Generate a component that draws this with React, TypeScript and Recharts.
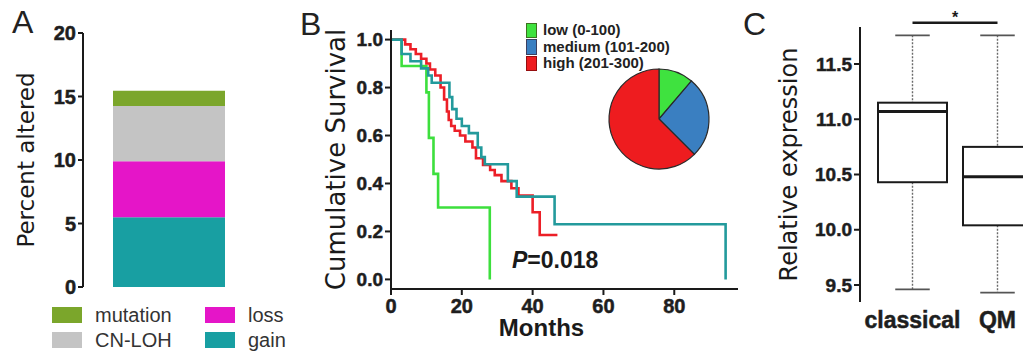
import React from 'react';
import {
  Bar,
  BarChart,
  Cell,
  ComposedChart,
  Legend,
  Line,
  LineChart,
  Pie,
  PieChart,
  ReferenceLine,
  XAxis,
  YAxis,
} from 'recharts';

const SANS = '"Liberation Sans", Arial, Helvetica, sans-serif';
const WIDE = '"DejaVu Sans", Verdana, sans-serif';
const INK = '#1a1a1a';

// --- A: alteration frequency (stacked, bottom to top)
const ALTERATIONS = ['gain', 'loss', 'CN-LOH', 'mutation'];
const ALTERED_PCT = [5.5, 4.4, 4.35, 1.2];
const ALTERATION_COLORS = ['#189fa2', '#e515c8', '#c4c4c4', '#7ba62b'];
const ALTERATION_LEGEND_ORDER = ['mutation', 'loss', 'CN-LOH', 'gain'];
const PCT_TICKS = [0, 5, 10, 15, 20];

// --- B: Kaplan-Meier by expression group
const GROUP_NAMES = ['low (0-100)', 'medium (101-200)', 'high (201-300)'];
const GROUP_SIZES = [9, 21, 50];
const PIE_COLORS = ['#3fe23f', '#3a7fc1', '#ee1c1f'];
const CURVE_COLORS = ['#3ddf3d', '#239a9c', '#ec1f27'];

const LOW_MONTHS = [0, 3, 10, 10.7, 12, 13.3, 27.9];
const LOW_SURV = [1, 0.89, 0.78, 0.59, 0.44, 0.3, 0];
const MED_MONTHS = [0, 3, 5.5, 8.5, 10.5, 11.5, 16.5, 17.3, 18.5, 20, 22, 24.5, 25.5, 26.5, 33, 35.5, 46.2, 94.5];
const MED_SURV = [1, 0.94, 0.91, 0.88, 0.85, 0.82, 0.76, 0.71, 0.67, 0.64, 0.61, 0.55, 0.51, 0.48, 0.41, 0.345, 0.23, 0];
const HIGH_MONTHS = [0, 4, 5.5, 7, 8.5, 10, 11, 12.5, 14, 15, 15.8, 16.3, 17, 18, 19.5, 21, 23, 24, 26, 28, 29.3, 31.2, 34, 36, 40, 42, 47];
const HIGH_SURV = [1, 0.98, 0.96, 0.94, 0.92, 0.9, 0.875, 0.85, 0.8, 0.75, 0.7, 0.665, 0.64, 0.62, 0.6, 0.575, 0.55, 0.505, 0.477, 0.456, 0.435, 0.41, 0.38, 0.35, 0.28, 0.185, 0.185];
const MONTH_TICKS = [0, 20, 40, 60, 80];
const SURV_TICKS = [0, 0.2, 0.4, 0.6, 0.8, 1];
const P_VALUE = '0.018';

// --- C: expression by subtype
const SUBTYPES = ['classical', 'QM'];
const EXPR_MIN = [9.46, 9.43];
const EXPR_Q1 = [10.43, 10.04];
const EXPR_MEDIAN = [11.07, 10.48];
const EXPR_Q3 = [11.15, 10.75];
const EXPR_MAX = [11.76, 11.76];
const EXPR_TICKS = [9.5, 10, 10.5, 11, 11.5];
const SIG_LEVEL = 11.874;

const zip = (xs: number[], ys: number[]) => xs.map((m, i) => ({ m, s: ys[i] }));
const curves = [zip(LOW_MONTHS, LOW_SURV), zip(MED_MONTHS, MED_SURV), zip(HIGH_MONTHS, HIGH_SURV)];

const axisStroke = { stroke: INK, strokeWidth: 2 };
const oneDecimal = (v: number) => v.toFixed(1);

// bold tick text; dy centres y-axis labels / hangs x-axis labels below the tick
function makeTick(size: number, dy: string, fmt: (v: any) => string = String) {
  return (props: any) => (
    <text
      x={props.x}
      y={props.y}
      dy={dy}
      textAnchor={props.textAnchor}
      fontSize={size}
      fontWeight={700}
      fontFamily={SANS}
      fill="#1e1e1e"
      stroke="#1e1e1e"
      strokeWidth={0.5}
    >
      {fmt(props.payload.value)}
    </text>
  );
}

function AlterationLegend({ payload }: any) {
  const items = ALTERATION_LEGEND_ORDER.map((n) => (payload || []).find((p: any) => p.value === n)).filter(Boolean);
  return (
    <div style={{ display: 'grid', gridTemplateColumns: '153px 110px', rowGap: 9, fontFamily: SANS, fontSize: 20, color: '#333' }}>
      {items.map((p: any) => (
        <div key={p.value} style={{ display: 'flex', alignItems: 'center', height: 16 }}>
          <span style={{ width: 30, height: 16, background: p.color, marginRight: 13, flex: 'none' }} />
          <span style={{ lineHeight: '16px' }}>{p.value}</span>
        </div>
      ))}
    </div>
  );
}

function AlterationPanel() {
  const row: Record<string, string | number> = { name: 'all' };
  ALTERATIONS.forEach((k, i) => (row[k] = ALTERED_PCT[i]));
  return (
    <BarChart width={330} height={356} data={[row]} margin={{ top: 33, right: 75, bottom: 69, left: 0 }}>
      <XAxis dataKey="name" tick={false} tickLine={false} height={0} axisLine={axisStroke} />
      <YAxis
        width={83}
        domain={[0, 20]}
        ticks={PCT_TICKS}
        axisLine={axisStroke}
        tickLine={axisStroke}
        tickSize={5}
        tickMargin={2}
        tick={makeTick(20, '0.355em')}
        label={{
          value: 'Percent altered',
          angle: -90,
          position: 'insideLeft',
          offset: 26,
          style: { textAnchor: 'middle', fontSize: 23, fontFamily: WIDE, fill: INK },
        }}
      />
      {ALTERATIONS.map((k, i) => (
        <Bar key={k} dataKey={k} name={k} stackId="a" barSize={112} fill={ALTERATION_COLORS[i]} isAnimationActive={false} />
      ))}
      <Legend
        layout="horizontal"
        verticalAlign="middle"
        align="center"
        content={AlterationLegend}
        wrapperStyle={{ left: 52, top: 307, width: 270 }}
      />
    </BarChart>
  );
}

function GroupLegend() {
  return (
    <div style={{ fontFamily: SANS, fontWeight: 'bold', fontSize: 15, color: '#222' }}>
      {GROUP_NAMES.map((name, i) => (
        <div key={name} style={{ display: 'flex', alignItems: 'center', height: 16.5 }}>
          <span style={{ width: 11, height: 15.5, background: PIE_COLORS[i], boxShadow: 'inset 0 0 0 1px rgba(60,0,0,0.5)', marginRight: 6, flex: 'none' }} />
          <span style={{ lineHeight: '16px' }}>{name}</span>
        </div>
      ))}
    </div>
  );
}

function SurvivalPanel() {
  const drawOrder = [0, 2, 1];
  return (
    <LineChart width={450} height={356} margin={{ top: 30, right: 12, bottom: 0, left: 0 }}>
      <XAxis
        type="number"
        dataKey="m"
        domain={[0, 98]}
        ticks={MONTH_TICKS}
        allowDataOverflow
        height={67}
        axisLine={axisStroke}
        tickLine={axisStroke}
        tickSize={6}
        tickMargin={4}
        tick={makeTick(20, '0.71em')}
        label={{
          value: 'Months',
          position: 'insideBottom',
          offset: 20,
          dx: -23,
          style: { fontSize: 24, fontWeight: 'bold', fontFamily: SANS, fill: INK },
        }}
      />
      <YAxis
        type="number"
        width={91}
        domain={[-0.04, 1.04]}
        ticks={SURV_TICKS}
        allowDataOverflow
        axisLine={axisStroke}
        tickLine={axisStroke}
        tickSize={6}
        tickMargin={2}
        tick={makeTick(19, '0.355em', oneDecimal)}
        label={{
          value: 'Cumulative Survival',
          angle: -90,
          position: 'insideLeft',
          offset: 36,
          style: { textAnchor: 'middle', fontSize: 26, fontFamily: WIDE, fill: INK },
        }}
      />
      {drawOrder.map((i) => (
        <Line
          key={GROUP_NAMES[i]}
          name={GROUP_NAMES[i]}
          data={curves[i]}
          dataKey="s"
          type="stepAfter"
          stroke={CURVE_COLORS[i]}
          strokeWidth={2.6}
          dot={false}
          activeDot={false}
          isAnimationActive={false}
        />
      ))}
    </LineChart>
  );
}

function GroupPie() {
  const data = GROUP_NAMES.map((name, i) => ({ name, value: GROUP_SIZES[i] }));
  return (
    <PieChart width={220} height={165} margin={{ top: 0, right: 0, bottom: 0, left: 0 }}>
      <Pie
        data={data}
        dataKey="value"
        nameKey="name"
        cx={139}
        cy={109}
        outerRadius={50}
        startAngle={90}
        endAngle={-270}
        stroke="#2a2a2a"
        strokeWidth={1.2}
        isAnimationActive={false}
      >
        {data.map((d, i) => (
          <Cell key={d.name} fill={PIE_COLORS[i]} />
        ))}
      </Pie>
      <Legend layout="horizontal" verticalAlign="middle" align="center" content={GroupLegend} wrapperStyle={{ left: 6, top: 12, width: 200 }} />
    </PieChart>
  );
}

function BoxShape(props: any) {
  const { x, y, width, height, payload } = props;
  const span = payload.max - payload.min;
  const py = (v: number) => y + (height * (payload.max - v)) / span;
  const cx = x + width / 2;
  const cap = width * 0.25;
  const whisker = { stroke: '#6a6a6a', strokeWidth: 1.4, strokeDasharray: '2 1.5' };
  const capStyle = { stroke: '#555', strokeWidth: 1.8 };
  return (
    <g>
      <line x1={cx} x2={cx} y1={py(payload.max)} y2={py(payload.q3)} {...whisker} />
      <line x1={cx} x2={cx} y1={py(payload.q1)} y2={py(payload.min)} {...whisker} />
      <line x1={cx - cap} x2={cx + cap} y1={py(payload.max)} y2={py(payload.max)} {...capStyle} />
      <line x1={cx - cap} x2={cx + cap} y1={py(payload.min)} y2={py(payload.min)} {...capStyle} />
      <rect x={x} y={py(payload.q3)} width={width} height={py(payload.q1) - py(payload.q3)} fill="#fff" stroke={INK} strokeWidth={2} />
      <line x1={x} x2={x + width} y1={py(payload.median)} y2={py(payload.median)} stroke={INK} strokeWidth={3} />
    </g>
  );
}

function ExpressionPanel() {
  const data = SUBTYPES.map((group, i) => ({
    group,
    min: EXPR_MIN[i],
    q1: EXPR_Q1[i],
    median: EXPR_MEDIAN[i],
    q3: EXPR_Q3[i],
    max: EXPR_MAX[i],
  }));
  return (
    <ComposedChart width={310} height={356} data={data} margin={{ top: 27, right: 10, bottom: 0, left: 0 }}>
      <XAxis
        dataKey="group"
        padding={{ left: 10, right: 0 }}
        height={54}
        axisLine={false}
        tickLine={false}
        tickSize={0}
        tickMargin={10}
        tick={makeTick(23, '0.71em')}
      />
      <YAxis
        type="number"
        width={120}
        domain={[9.346, 11.835]}
        ticks={EXPR_TICKS}
        allowDataOverflow
        axisLine={axisStroke}
        tickLine={axisStroke}
        tickSize={6}
        tickMargin={2}
        tick={makeTick(19, '0.355em', oneDecimal)}
        label={{
          value: 'Relative expression',
          angle: -90,
          position: 'insideLeft',
          offset: 48,
          style: { textAnchor: 'middle', fontSize: 24, fontFamily: WIDE, fill: INK },
        }}
      />
      <Bar dataKey={(d: any) => [d.min, d.max]} barSize={69} shape={BoxShape} isAnimationActive={false} />
      <ReferenceLine
        segment={[
          { x: SUBTYPES[0], y: SIG_LEVEL },
          { x: SUBTYPES[1], y: SIG_LEVEL },
        ]}
        ifOverflow="visible"
        stroke={INK}
        strokeWidth={2.5}
        label={{ value: '*', position: 'top', offset: 0, style: { fontSize: 16, fontWeight: 'bold', fill: INK, fontFamily: SANS } }}
      />
    </ComposedChart>
  );
}

const panelLetter = (left: number, top: number): React.CSSProperties => ({
  position: 'absolute',
  left,
  top,
  fontFamily: SANS,
  fontSize: 32,
  lineHeight: '32px',
  color: '#222',
});

export default function App() {
  return (
    <div style={{ position: 'absolute', left: 0, top: 0, width: 1023, height: 356, overflow: 'hidden', background: '#fff' }}>
      <div style={{ position: 'absolute', left: 0, top: 0 }}>
        <AlterationPanel />
      </div>
      <div style={{ position: 'absolute', left: 300, top: 0 }}>
        <SurvivalPanel />
      </div>
      <div style={{ position: 'absolute', left: 520, top: 10 }}>
        <GroupPie />
      </div>
      <div
        style={{
          position: 'absolute',
          left: 512,
          top: 249,
          fontFamily: SANS,
          fontWeight: 'bold',
          fontSize: 23,
          lineHeight: '23px',
          color: INK,
        }}
      >
        <i>P</i>={P_VALUE}
      </div>
      <div style={{ position: 'absolute', left: 740, top: 0 }}>
        <ExpressionPanel />
      </div>
      <div style={panelLetter(12, 6)}>A</div>
      <div style={panelLetter(300, 8)}>B</div>
      <div style={panelLetter(743, 8)}>C</div>
    </div>
  );
}
